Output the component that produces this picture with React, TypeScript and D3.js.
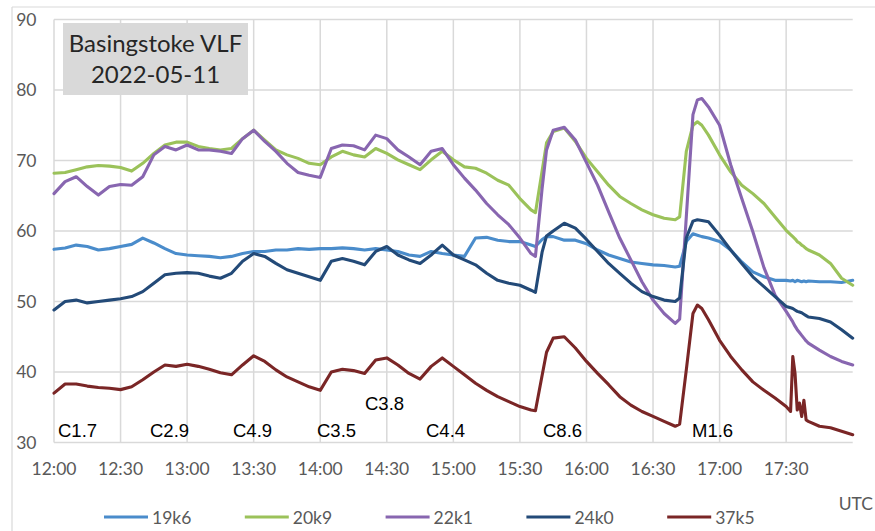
import React from "react";
import * as d3 from "d3";

// minutes after 12:00 UTC
const minutes = [
  0, 5, 10, 15, 20, 25, 30, 35, 40, 45, 50, 55, 60, 65, 70, 75, 80, 85, 90, 95,
  100, 105, 110, 115, 120, 125, 130, 135, 140, 145, 150, 155, 160, 165, 170, 175,
  180, 185, 190, 195, 200, 205, 210, 215, 217, 220, 222, 225, 230, 235, 240, 245,
  250, 255, 260, 265, 270, 275, 280, 282, 285, 288, 290, 292, 295, 300, 305, 310,
  315, 320, 325, 330, 332, 333, 334, 335, 336, 337, 338, 339, 340, 345, 350, 355, 360,
];

const s19k6 = [
  57.4, 57.6, 58.0, 57.8, 57.3, 57.5, 57.8, 58.1, 59.0, 58.3, 57.5, 56.8, 56.6, 56.5, 56.4, 56.2, 56.4, 56.8, 57.1, 57.1,
  57.3, 57.3, 57.5, 57.4, 57.5, 57.5, 57.6, 57.5, 57.3, 57.5, 57.3, 57.1, 56.6, 56.4, 57.1, 56.8,
  56.6, 56.4, 59.0, 59.1, 58.7, 58.5, 58.5, 58.0, 57.8, 58.8, 59.2, 59.2, 58.7, 58.7, 58.2, 57.3,
  56.6, 56.1, 55.6, 55.4, 55.2, 55.1, 54.9, 55.0, 58.5, 59.6, 59.4, 59.2, 59.0, 58.5, 57.3, 55.6,
  54.2, 53.5, 53.0, 53.0, 52.9, 53.0, 52.8, 53.0, 52.9, 52.8, 52.9, 52.8, 52.9, 52.8, 52.8, 52.7, 53.0,
];

const s20k9 = [
  68.2, 68.3, 68.7, 69.1, 69.3, 69.2, 69.0, 68.5, 69.6, 71.0, 72.2, 72.6, 72.6, 72.0, 71.7, 71.5, 71.7, 73.1, 74.3, 72.9,
  71.5, 70.8, 70.3, 69.6, 69.4, 70.5, 71.3, 70.8, 70.5, 71.7, 71.0, 70.1, 69.4, 68.7, 70.1, 71.3,
  70.1, 69.1, 68.9, 68.2, 67.2, 66.5, 64.6, 63.0, 62.6, 68.5, 72.5, 74.1, 74.6, 72.7, 70.3, 68.4,
  66.5, 64.9, 63.9, 63.0, 62.3, 61.8, 61.6, 62.0, 71.3, 75.0, 75.5, 75.0, 73.6, 70.8, 68.4, 66.5,
  65.3, 63.9, 62.0, 60.1, 59.5, 59.2, 58.9, 58.5, 58.3, 58.0, 57.8, 57.5, 57.3, 56.6, 55.4, 53.3, 52.3,
];

const s22k1 = [
  65.3, 67.0, 67.7, 66.3, 65.1, 66.3, 66.6, 66.5, 67.7, 70.8, 72.0, 71.5, 72.2, 71.5, 71.5, 71.3, 71.0, 73.1, 74.3, 72.7,
  71.3, 69.6, 68.3, 67.9, 67.6, 71.7, 72.2, 72.1, 71.5, 73.6, 73.1, 71.5, 70.5, 69.4, 71.3, 71.7,
  69.4, 67.5, 65.8, 63.9, 62.3, 60.9, 59.0, 56.8, 56.4, 66.0, 71.5, 74.3, 74.7, 72.9, 69.7, 66.5,
  62.7, 59.0, 55.9, 52.8, 50.2, 48.3, 46.9, 47.5, 62.0, 76.5, 78.6, 78.8, 77.6, 75.0, 69.4, 64.6,
  59.9, 54.8, 50.9, 48.6, 47.6, 47.1, 46.5, 46.0, 45.6, 45.2, 44.8, 44.4, 44.1, 43.1, 42.2, 41.5, 41.0,
];

const s24k0 = [
  48.8, 50.0, 50.2, 49.8, 50.0, 50.2, 50.4, 50.7, 51.4, 52.6, 53.8, 54.0, 54.1, 54.0, 53.6, 53.3, 54.0, 55.7, 56.8, 56.4,
  55.4, 54.5, 54.0, 53.5, 53.0, 55.7, 56.1, 55.7, 55.2, 57.1, 57.8, 56.6, 55.9, 55.4, 56.6, 58.0,
  56.6, 55.9, 55.2, 54.0, 53.0, 52.6, 52.3, 51.6, 51.3, 57.0, 59.3, 60.0, 61.1, 60.4, 58.8, 57.1,
  55.4, 54.0, 52.6, 51.4, 50.7, 50.2, 50.0, 50.5, 59.0, 61.4, 61.6, 61.5, 61.3, 59.4, 57.3, 55.4,
  53.5, 52.1, 50.7, 49.3, 49.1, 49.0, 48.8, 48.6, 48.5, 48.4, 48.2, 48.0, 47.8, 47.6, 47.1, 46.0, 44.8,
];

const s37k5 = [
  37.0, 38.3, 38.3, 38.0, 37.8, 37.7, 37.5, 37.9, 38.9, 40.0, 41.0, 40.8, 41.1, 40.8, 40.4, 39.9, 39.6, 41.0, 42.3, 41.5,
  40.3, 39.3, 38.6, 37.9, 37.4, 40.0, 40.4, 40.2, 39.8, 41.7, 42.0, 41.0, 39.8, 39.0, 40.8, 42.0,
  40.8, 39.6, 38.4, 37.4, 36.5, 35.8, 35.1, 34.6, 34.5, 39.5, 42.8, 44.8, 45.0, 43.4, 41.5, 39.8,
  38.2, 36.5, 35.3, 34.4, 33.7, 33.0, 32.3, 32.6, 40.3, 48.3, 49.5, 49.0, 47.4, 44.5, 42.2, 40.3,
  38.6, 37.4, 36.3, 35.1, 34.4, 42.2, 39.8, 34.6, 35.6, 33.7, 36.0, 33.2, 33.0, 32.3, 32.1, 31.6, 31.1,
];

const seriesNames = ["19k6", "20k9", "22k1", "24k0", "37k5"];
const seriesValues = [s19k6, s20k9, s22k1, s24k0, s37k5];
const seriesColors = ["#4a8ccb", "#9bc25a", "#8866b0", "#234a78", "#7a2626"];

const xTickLabels = ["12:00", "12:30", "13:00", "13:30", "14:00", "14:30", "15:00", "15:30", "16:00", "16:30", "17:00", "17:30"];
const xTickMinutes = [0, 30, 60, 90, 120, 150, 180, 210, 240, 270, 300, 330];
const yTicks = [30, 40, 50, 60, 70, 80, 90];

const flareLabels = ["C1.7", "C2.9", "C4.9", "C3.5", "C3.8", "C4.4", "C8.6", "M1.6"];
const flareX = [58, 150, 233, 317, 365, 426, 543, 692];
const flareY = [437, 437, 437, 437, 410, 437, 437, 437];

const titleLines = ["Basingstoke VLF", "2022-05-11"];

export default function App() {
  const W = 875;
  const H = 531;
  const x = d3.scaleLinear().domain([0, 360]).range([54, 852.7]);
  const y = d3.scaleLinear().domain([30, 90]).range([442.5, 19.5]);
  const line = d3
    .line<number>()
    .x((_, i) => x(minutes[i]))
    .y((d) => y(d))
    .curve(d3.curveLinear);

  const axisFont = "Lato, 'Open Sans', sans-serif";
  const grey = "#595959";
  const gridC = "#d9d9d9";

  return (
    <svg
      width={W}
      height={H}
      style={{ position: "absolute", left: 0, top: 0, background: "#fff" }}
    >
      <rect x={0} y={0} width={W} height={H} fill="#fff" />
      {/* chart area border */}
      <line x1={12} y1={7} x2={W} y2={7} stroke={gridC} strokeWidth={1.2} />
      <line x1={12} y1={7} x2={12} y2={H} stroke={gridC} strokeWidth={1.2} />

      {/* grid */}
      {yTicks.map((t) => (
        <line key={"gy" + t} x1={x(0)} x2={x(360)} y1={y(t)} y2={y(t)} stroke={gridC} strokeWidth={1.5} />
      ))}
      {xTickMinutes.map((m) => (
        <line key={"gx" + m} x1={x(m)} x2={x(m)} y1={y(90)} y2={y(30)} stroke={gridC} strokeWidth={1.5} />
      ))}

      {/* y labels */}
      {yTicks.map((t) => (
        <text key={"yl" + t} x={36.5} y={y(t) + 6.3} textAnchor="end" fontFamily={axisFont} fontSize={17.5} fill={grey}>
          {t}
        </text>
      ))}
      {/* x labels */}
      {xTickMinutes.map((m, i) => (
        <text key={"xl" + m} x={x(m)} y={475} textAnchor="middle" fontFamily={axisFont} fontSize={17.5} fill={grey}>
          {xTickLabels[i]}
        </text>
      ))}

      {/* series */}
      {seriesValues.map((vals, i) => (
        <path
          key={seriesNames[i]}
          d={line(vals) || ""}
          fill="none"
          stroke={seriesColors[i]}
          strokeWidth={3.1}
          strokeLinejoin="round"
          strokeLinecap="round"
        />
      ))}

      {/* title box */}
      <rect x={63} y={23} width={185} height={72} fill="#d9d9d9" />
      <text x={155.5} y={52} textAnchor="middle" fontFamily={axisFont} fontSize={24} fill="#262626">
        {titleLines[0]}
      </text>
      <text x={155.5} y={83} textAnchor="middle" fontFamily={axisFont} fontSize={24} fill="#262626">
        {titleLines[1]}
      </text>

      {/* flare annotations */}
      {flareLabels.map((l, i) => (
        <text key={l} x={flareX[i]} y={flareY[i]} fontFamily="'Liberation Sans', Arial, sans-serif" fontSize={18.5} fill="#000">
          {l}
        </text>
      ))}

      {/* legend */}
      {seriesNames.map((n, i) => {
        const lx = 104 + i * 140.8;
        return (
          <g key={"lg" + n}>
            <line x1={lx} x2={lx + 44} y1={517} y2={517} stroke={seriesColors[i]} strokeWidth={3} />
            <text x={lx + 48} y={524} fontFamily={axisFont} fontSize={17.5} fill={grey}>
              {n}
            </text>
          </g>
        );
      })}
      <text x={873} y={510} textAnchor="end" fontFamily={axisFont} fontSize={17.5} fill={grey}>
        UTC
      </text>
    </svg>
  );
}
